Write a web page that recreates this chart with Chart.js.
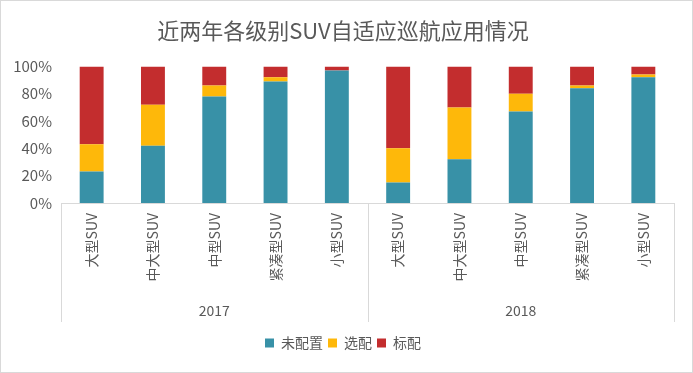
<!DOCTYPE html>
<html>
<head>
<meta charset="utf-8">
<script src="https://cdn.jsdelivr.net/npm/chart.js@4.4.1/dist/chart.umd.min.js"></script>
<style>
  body { margin: 0; background: #fff; }
  #wrap { width: 693px; height: 373px; box-sizing: border-box; border: 1px solid #d9d9d9; }
</style>
</head>
<body>
<div id="wrap"><canvas id="myChart" width="691" height="371"></canvas></div>
<script>
const categories = ["大型SUV", "中大型SUV", "中型SUV", "紧凑型SUV", "小型SUV", "大型SUV", "中大型SUV", "中型SUV", "紧凑型SUV", "小型SUV"];
const years = ["2017", "2018"];
const notFitted = [23, 42, 78, 89, 97, 15, 32, 67, 84, 92];
const optional = [20, 30, 8, 3, 0, 25, 38, 13, 2, 2];
const standard = [57, 28, 14, 8, 3, 60, 30, 20, 14, 6];
const seriesNames = ["未配置", "选配", "标配"];

const font = '"Noto Sans CJK SC", "Noto Sans", sans-serif';
const textColor = "#595959";

// vertical lines that split the two year groups
const groupLines = {
  id: "groupLines",
  afterDraw(chart) {
    const x2 = chart.scales.x2;
    const area = chart.chartArea;
    const ctx = chart.ctx;
    const mid = (x2.getPixelForValue(0) + x2.getPixelForValue(1)) / 2;
    const end = x2.top + 41;
    ctx.save();
    ctx.strokeStyle = "#d9d9d9";
    ctx.lineWidth = 1;
    [x2.left, mid, x2.right].forEach((x) => {
      const px = Math.round(x) + 0.5;
      ctx.beginPath();
      ctx.moveTo(px, area.bottom);
      ctx.lineTo(px, end);
      ctx.stroke();
    });
    ctx.restore();
  },
};

const ctx = document.getElementById("myChart").getContext("2d");

const myChart = new Chart(ctx, {
  type: "bar",
  data: {
    labels: categories,
    datasets: [
      { label: seriesNames[0], data: notFitted, backgroundColor: "#3891A7" },
      { label: seriesNames[1], data: optional, backgroundColor: "#FEB80A" },
      { label: seriesNames[2], data: standard, backgroundColor: "#C32D2E" },
    ],
  },
  options: {
    responsive: false,
    animation: false,
    layout: { padding: { left: 11, right: 18, top: 0, bottom: 12 } },
    datasets: {
      bar: { categoryPercentage: 1, barPercentage: 0.39 },
    },
    plugins: {
      title: {
        display: true,
        text: "近两年各级别SUV自适应巡航应用情况",
        color: textColor,
        font: { family: font, size: 22, weight: "normal" },
        padding: { top: 16, bottom: 23 },
      },
      legend: {
        position: "bottom",
        labels: {
          color: textColor,
          font: { family: font, size: 14 },
          boxWidth: 9,
          boxHeight: 9,
          padding: 5,
        },
      },
      tooltip: { enabled: false },
    },
    scales: {
      x: {
        stacked: true,
        grid: { display: false, drawTicks: false },
        border: { display: true, color: "#d9d9d9" },
        ticks: {
          color: textColor,
          font: { family: font, size: 14 },
          minRotation: 90,
          maxRotation: 90,
          autoSkip: false,
          padding: 10,
        },
        afterFit(scale) {
          scale.height = 78;
        },
      },
      x2: {
        type: "category",
        labels: years,
        position: "bottom",
        offset: true,
        grid: { display: false, drawTicks: false },
        border: { display: false },
        ticks: {
          color: textColor,
          font: { family: font, size: 14 },
          padding: 21,
        },
        afterFit(scale) {
          scale.height = 50;
        },
      },
      y: {
        stacked: true,
        min: 0,
        max: 100,
        grid: { display: false, drawTicks: false },
        border: { display: false },
        ticks: {
          stepSize: 20,
          color: textColor,
          font: { family: font, size: 15 },
          padding: 9,
          callback: (v) => v + "%",
        },
        afterFit(scale) {
          scale.width = 49;
        },
      },
    },
  },
  plugins: [groupLines],
});
</script>
</body>
</html>
